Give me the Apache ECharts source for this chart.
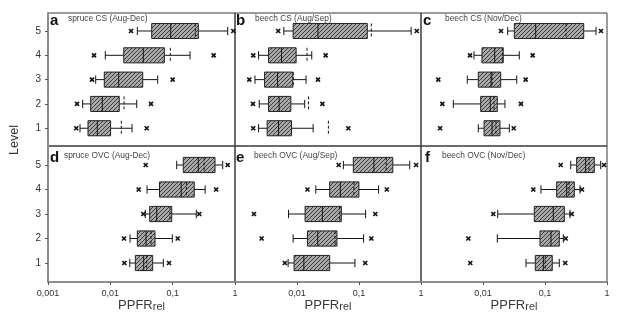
<!DOCTYPE html>
<html>
<head>
<meta charset="utf-8">
<script src="https://cdn.jsdelivr.net/npm/echarts@6/dist/echarts.min.js"></script>
<style>
  html, body { margin: 0; padding: 0; background: #fff; }
  #chart { width: 622px; height: 323px; }
</style>
</head>
<body>
<div id="chart"></div>
<script>
// Canopy levels (y) and decade tick labels of the log PPFR axis (x)
const levels = [1, 2, 3, 4, 5];
const xTickLabels = ['0,001', '0,01', '0,1', '1'];
const panelLetters = ['a', 'b', 'c', 'd', 'e', 'f'];
const panelTitles = [
  'spruce CS (Aug-Dec)', 'beech CS (Aug/Sep)', 'beech CS (Nov/Dec)',
  'spruce OVC (Aug-Dec)', 'beech OVC (Aug/Sep)', 'beech OVC (Nov/Dec)'
];

// Box statistics per level 1..5: [lower whisker, Q1, median, Q3, upper whisker]
// Means (dashed line, null = hidden) and the two extreme values [min, max]
const spruceCS_box = [
  [0.00326, 0.00438, 0.00618, 0.0101, 0.0223],
  [0.0036, 0.00484, 0.00743, 0.0139, 0.0265],
  [0.00582, 0.0080, 0.0136, 0.0331, 0.0575],
  [0.0083, 0.0164, 0.0338, 0.0735, 0.190],
  [0.0271, 0.0461, 0.0931, 0.258, 0.764]
];
const spruceCS_mean = [0.0150, 0.0166, null, 0.0916, 0.231];
const spruceCS_out = [[0.00284, 0.0383], [0.00292, 0.0449], [0.00508, 0.100], [0.00547, 0.455], [0.0215, 0.94]];

const beechCSsummer_box = [
  [0.0024, 0.0033, 0.00504, 0.00816, 0.0182],
  [0.00246, 0.00348, 0.00515, 0.00795, 0.0133],
  [0.0021, 0.0030, 0.00486, 0.00856, 0.0140],
  [0.0024, 0.00348, 0.00563, 0.00968, 0.0173],
  [0.00614, 0.00866, 0.0218, 0.136, 0.693]
];
const beechCSsummer_mean = [0.0321, 0.0153, 0.0087, 0.0145, 0.158];
const beechCSsummer_out = [[0.00197, 0.0673], [0.00195, 0.0257], [0.0017, 0.0218], [0.00197, 0.029], [0.00497, 0.853]];

const beechCSwinter_box = [
  [0.0084, 0.0104, 0.0140, 0.0188, 0.0266],
  [0.00332, 0.00918, 0.0131, 0.0170, 0.0226],
  [0.00558, 0.0084, 0.0135, 0.0193, 0.035],
  [0.00716, 0.00963, 0.01545, 0.0212, 0.0385],
  [0.025, 0.032, 0.0708, 0.421, 0.665]
];
const beechCSwinter_mean = [0.0162, 0.0150, 0.0140, 0.0205, 0.218];
const beechCSwinter_out = [[0.00203, 0.0313], [0.00221, 0.041], [0.0019, 0.0488], [0.00617, 0.0633], [0.0195, 0.80]];

const spruceOVC_box = [
  [0.0205, 0.0252, 0.0343, 0.0478, 0.0708],
  [0.0207, 0.0271, 0.0374, 0.0521, 0.0987],
  [0.0364, 0.0428, 0.0555, 0.0966, 0.239],
  [0.0388, 0.0615, 0.137, 0.222, 0.332],
  [0.116, 0.148, 0.258, 0.478, 0.635]
];
const spruceOVC_mean = [0.0383, 0.0449, 0.0906, 0.166, 0.32];
const spruceOVC_out = [[0.0168, 0.0874], [0.0166, 0.1205], [0.0338, 0.267], [0.0285, 0.498], [0.0369, 0.764]];

const beechOVCsummer_box = [
  [0.00719, 0.00898, 0.0129, 0.0337, 0.086],
  [0.00866, 0.01475, 0.0216, 0.0441, 0.1186],
  [0.0073, 0.0135, 0.0257, 0.0519, 0.1277],
  [0.0201, 0.0337, 0.050, 0.0996, 0.207],
  [0.056, 0.081, 0.174, 0.351, 0.658]
];
const beechOVCsummer_mean = [null, 0.041, 0.0488, 0.0828, 0.275];
const beechOVCsummer_out = [[0.00637, 0.126], [0.00269, 0.158], [0.00202, 0.183], [0.01475, 0.281], [0.047, 0.834]];

const beechOVCwinter_box = [
  [0.0494, 0.0698, 0.094, 0.131, 0.170],
  [0.017, 0.083, 0.125, 0.170, 0.197],
  [0.01726, 0.0672, 0.136, 0.205, 0.253],
  [0.0861, 0.154, 0.224, 0.297, 0.367],
  [0.26, 0.324, 0.453, 0.624, 0.791]
];
const beechOVCwinter_mean = [0.101, null, null, 0.244, 0.513];
const beechOVCwinter_out = [[0.00624, 0.212], [0.0058, 0.216], [0.01466, 0.27], [0.0648, 0.395], [0.179, 0.895]];

const panels = [
  [spruceCS_box, spruceCS_mean, spruceCS_out],
  [beechCSsummer_box, beechCSsummer_mean, beechCSsummer_out],
  [beechCSwinter_box, beechCSwinter_mean, beechCSwinter_out],
  [spruceOVC_box, spruceOVC_mean, spruceOVC_out],
  [beechOVCsummer_box, beechOVCsummer_mean, beechOVCsummer_out],
  [beechOVCwinter_box, beechOVCwinter_mean, beechOVCwinter_out]
];

// Diagonal hatch tile for the boxes
const hatchTile = document.createElement('canvas');
hatchTile.width = 4; hatchTile.height = 4;
(function () {
  const c = hatchTile.getContext('2d');
  c.fillStyle = '#a9a9a9';
  c.fillRect(0, 0, 4, 4);
  c.strokeStyle = '#3c3c3c';
  c.lineWidth = 1;
  c.beginPath();
  c.moveTo(-1, 5); c.lineTo(5, -1);
  c.moveTo(-1, 1); c.lineTo(1, -1);
  c.moveTo(3, 5); c.lineTo(5, 3);
  c.stroke();
})();
const hatch = { image: hatchTile, repeat: 'repeat' };

const FONT = '"Liberation Sans", Arial, sans-serif';
const colLeft = [48, 235, 421];
const colWidth = [187, 186, 186];
const rowTop = [13, 146];
const rowHeight = [133, 136];
const rowRange = [[0.27, 5.74], [0.225, 5.775]];

function makeRenderer(box, mean, out) {
  return function (params, api) {
    const i = params.dataIndex;
    const lv = levels[i];
    const b = box[i];
    const px = v => api.coord([v, lv])[0];
    const yC = api.coord([b[2], lv])[1];
    const hb = Math.abs(api.coord([b[2], lv + 0.31])[1] - yC);
    const hc = hb * 0.55;
    const [xLo, xQ1, xMed, xQ3, xHi] = b.map(px);
    const line = (x1, y1, x2, y2, extra) => ({
      type: 'line', shape: { x1, y1, x2, y2 },
      style: Object.assign({ stroke: '#151515', lineWidth: 1 }, extra || {})
    });
    const kids = [
      line(xLo, yC, xQ1, yC),
      line(xQ3, yC, xHi, yC),
      line(xLo, yC - hc, xLo, yC + hc),
      line(xHi, yC - hc, xHi, yC + hc),
      { type: 'rect', shape: { x: xQ1, y: yC - hb, width: xQ3 - xQ1, height: 2 * hb },
        style: { fill: hatch, stroke: '#222', lineWidth: 1 } },
      line(xMed, yC - hb, xMed, yC + hb)
    ];
    if (mean[i] != null) {
      const xm = px(mean[i]);
      kids.push(line(xm, yC - hb, xm, yC + hb, { lineDash: [3, 2] }));
    }
    out[i].forEach(v => {
      const x = px(v);
      kids.push(line(x - 2, yC - 2, x + 2, yC + 2, { lineWidth: 1.7 }));
      kids.push(line(x - 2, yC + 2, x + 2, yC - 2, { lineWidth: 1.7 }));
    });
    return { type: 'group', children: kids };
  };
}

const grids = [], xAxes = [], yAxes = [], series = [], titles = [];
const letterPos = [[50, 13], [236, 13], [423, 13], [50, 150], [236, 150], [425, 150]];
const subPos = [[68, 14.5], [255, 14.5], [445, 14.5], [64, 151.5], [254, 151.5], [442, 151.5]];

for (let p = 0; p < 6; p++) {
  const row = Math.floor(p / 3), col = p % 3;
  const bottom = row === 1, left = col === 0;
  grids.push({
    left: colLeft[col], top: rowTop[row], width: colWidth[col], height: rowHeight[row],
    show: true, borderColor: '#3a3a3a', borderWidth: 1, backgroundColor: 'transparent'
  });
  xAxes.push({
    type: 'log', logBase: 10, min: 0.001, max: 1, gridIndex: p,
    axisLine: { show: bottom, lineStyle: { color: '#8c8c8c', width: 1.5 } },
    axisTick: { show: bottom, inside: false, length: 3, lineStyle: { color: '#555' } },
    axisLabel: {
      show: bottom, showMinLabel: col === 0, margin: 7,
      fontFamily: FONT, fontSize: 9, color: '#333',
      formatter: v => xTickLabels[Math.round(Math.log10(v)) + 3]
    },
    splitLine: { show: false }, minorTick: { show: false },
    name: bottom ? '{a|PPFR}{b|rel}' : '',
    nameLocation: 'middle', nameGap: 16,
    nameTextStyle: {
      rich: {
        a: { fontFamily: FONT, fontSize: 13, color: '#3a3a3a', verticalAlign: 'top', lineHeight: 15 },
        b: { fontFamily: FONT, fontSize: 11, color: '#3a3a3a', verticalAlign: 'top', lineHeight: 12, padding: [3, 0, 0, 0] }
      }
    }
  });
  yAxes.push({
    type: 'value', gridIndex: p, min: rowRange[row][0], max: rowRange[row][1],
    axisLine: { show: left, lineStyle: { color: '#8c8c8c', width: 2 } },
    axisTick: { show: left, length: 3, customValues: levels, lineStyle: { color: '#555' } },
    axisLabel: { show: left, customValues: levels, margin: 7, fontFamily: FONT, fontSize: 10, color: '#333' },
    splitLine: { show: false }
  });
  const [box, mean, out] = panels[p];
  series.push({
    type: 'custom', xAxisIndex: p, yAxisIndex: p, clip: false,
    data: levels.map((lv, i) => [lv].concat(box[i])),
    encode: { x: [1, 2, 3, 4, 5], y: 0 },
    renderItem: makeRenderer(box, mean, out),
    silent: true
  });
  titles.push({
    text: panelLetters[p], left: letterPos[p][0], top: letterPos[p][1], padding: 0,
    textStyle: { fontFamily: FONT, fontSize: 15, fontWeight: 'bold', color: '#121212' }
  });
  titles.push({
    text: panelTitles[p], left: subPos[p][0], top: subPos[p][1], padding: 0,
    textStyle: { fontFamily: FONT, fontSize: 8.4, fontWeight: 'normal', color: '#444' }
  });
}

const chart = echarts.init(document.getElementById('chart'), null, { renderer: 'canvas' });
chart.setOption({
  animation: false,
  backgroundColor: '#fff',
  title: titles,
  grid: grids,
  xAxis: xAxes,
  yAxis: yAxes,
  series: series,
  graphic: [{
    type: 'text', x: 15, y: 140, rotation: Math.PI / 2,
    style: { text: 'Level', font: '12.5px ' + FONT, fill: '#333', align: 'center', verticalAlign: 'middle' }
  }]
});
</script>
</body>
</html>
